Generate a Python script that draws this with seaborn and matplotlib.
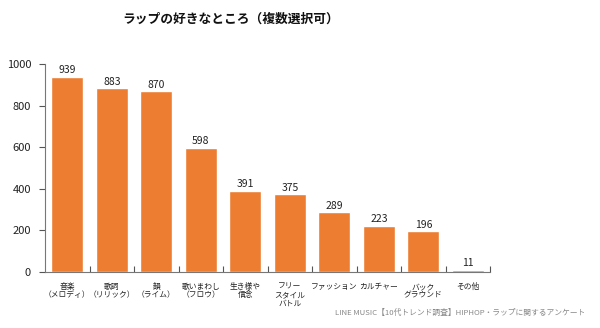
import matplotlib
matplotlib.use("Agg")
import matplotlib.pyplot as plt
import seaborn as sns
import numpy as np
import pandas as pd

categories = ["音楽\n（メロディ）", "歌詞\n（リリック）", "韻\n（ライム）", "歌いまわし\n（フロウ）",
              "生き様や\n信念", "フリー\nスタイル\nバトル", "ファッション", "カルチャー",
              "バック\nグラウンド", "その他"]
values = [939, 883, 870, 598, 391, 375, 289, 223, 196, 11]
yticks = [0, 200, 400, 600, 800, 1000]
title = "ラップの好きなところ（複数選択可）"
source = "LINE MUSIC【10代トレンド調査】HIPHOP・ラップに関するアンケート"

sns.set_theme(style="white")
plt.rcParams["font.family"] = ["Noto Sans CJK JP", "DejaVu Sans"]

df = pd.DataFrame({"cat": categories, "val": values})
fig = plt.figure(figsize=(6.0, 3.28), dpi=100)
ax = fig.add_axes([0.075, 0.171, 0.742, 0.634])
sns.barplot(data=df, x="cat", y="val", color="#ED7D31", saturation=1, width=0.72, ax=ax)

for p, v in zip(ax.patches, values):
    ax.text(p.get_x() + p.get_width() / 2, p.get_height() + 6, str(v),
            ha="center", va="bottom", fontsize=7.5, color="#222222")

ax.set_ylim(0, 1000)
ax.set_xlim(-0.5, len(categories) - 0.5)
ax.set_yticks(yticks)
ax.set_yticklabels([str(t) for t in yticks], fontsize=8, color="#222222")
ax.set_xlabel("")
ax.set_ylabel("")
ax.set_xticks(range(len(categories)))
ax.set_xticklabels(categories, fontsize=5.6, color="#222222", linespacing=1.05)
ax.tick_params(axis="x", length=0, pad=8)
ax.tick_params(axis="y", length=4, width=0.8, color="#555555", direction="out", left=True, pad=6)
ax.set_xticks(np.arange(0.5, len(categories), 1), minor=True)
ax.tick_params(axis="x", which="minor", length=4, width=0.8, color="#555555", direction="in", bottom=True)

for s in ["top", "right"]:
    ax.spines[s].set_visible(False)
for s in ["left", "bottom"]:
    ax.spines[s].set_color("#777777")
    ax.spines[s].set_linewidth(0.8)

fig.text(0.385, 0.94, title, ha="center", va="center", fontsize=9.2, fontweight="bold", color="#111111")
fig.text(0.975, 0.045, source, ha="right", va="center", fontsize=5.6, color="#888888")

fig.savefig("out.png", dpi=100, facecolor="white")
